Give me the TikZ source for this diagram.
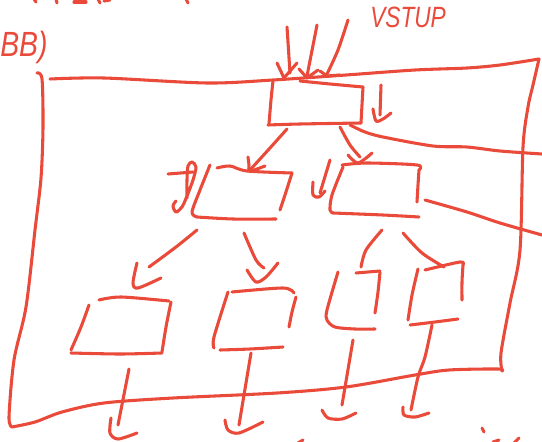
\documentclass[tikz,border=0pt]{standalone}
\usepackage{fontspec}
\setmainfont{Liberation Sans}
\definecolor{pen}{RGB}{233,74,58}

\begin{document}
\begin{tikzpicture}[x=0.75pt,y=0.75pt,yscale=-1,xscale=1,
  ink/.style={draw=pen, line width=2.3pt, line cap=round, line join=round},
  hand/.style={text=pen, inner sep=0pt, font=\itshape}]
\useasboundingbox (0,0) rectangle (542,442);

%Free Drawing: frame
\draw  [ink] plot [smooth] coordinates {(50,79) (104,78) (207,83) (273,80) (346,75) (415,70) (467,68) (500,65) (539,59)} ;
\draw  [ink] plot [smooth] coordinates {(539,59) (533,85) (528,107) (523,147) (520,250) (510,303) (501,353) (502,371)} ;
\draw  [ink] plot [smooth] coordinates {(502,371) (498,369) (449,370) (415,375) (346,387) (277,393) (173,398) (104,403) (62,412) (35,422) (12,427)} ;
\draw  [ink] plot [smooth] coordinates {(12,427) (9,417) (14,360) (26,307) (35,230) (41,178) (43,127) (42,79) (37,73)} ;

%Free Drawing: input box
\draw  [ink] plot [smooth] coordinates {(273,81) (271,100) (269,124)} ;
\draw  [ink] plot [smooth] coordinates {(268,125) (300,124) (361,123)} ;
\draw  [ink] plot [smooth] coordinates {(300,81) (330,84) (363,87)} ;
\draw  [ink] plot [smooth] coordinates {(363,87) (362,105) (361,123)} ;

%Free Drawing: input arrows
\draw  [ink] (287,27) -- (290,73) ;
\draw  [ink] (277,63) -- (284,78) -- (297,63) ;
\draw  [ink] (317,25) -- (307,76) ;
\draw  [ink] (299,69) -- (307,78) -- (318,70) ;
\draw  [ink] plot [smooth] coordinates {(348,20) (338,50) (327,74)} ;
\draw  [ink] (320,71) -- (327,76) -- (340,75) ;

%Free Drawing: side outputs
\draw  [ink] plot [smooth] coordinates {(350,125) (365,132) (383,137) (433,146) (467,147) (500,151) (542,154)} ;
\draw  [ink] (381,85) -- (380,115) ;
\draw  [ink] plot [smooth] coordinates {(373,109) (376,121) (383,119) (391,113)} ;
\draw  [ink] plot [smooth] coordinates {(425,200) (467,212) (500,223) (542,235)} ;

%Free Drawing: left box
\draw  [ink] plot [smooth] coordinates {(287,129) (270,148) (250,170)} ;
\draw  [ink] plot [smooth] coordinates {(248,157) (249,165) (250,171) (265,166)} ;
\draw  [ink] plot [smooth] coordinates {(217,168) (230,166) (247,171) (292,173)} ;
\draw  [ink] plot [smooth] coordinates {(292,173) (285,195) (280,210)} ;
\draw  [ink] plot [smooth] coordinates {(210,165) (200,190) (192,212) (197,217)} ;
\draw  [ink] plot [smooth] coordinates {(197,217) (233,219) (276,219)} ;
\draw  [ink] (168,174) -- (193,172) ;
\draw  [ink] plot [smooth] coordinates {(187,198) (187,180) (188,166) (192,162) (196,167) (193,180) (187,196) (182,207) (176,212) (173,206) (176,201)} ;

%Free Drawing: right box
\draw  [ink] plot [smooth] coordinates {(340,127) (350,145) (360,157)} ;
\draw  [ink] plot [smooth] coordinates {(348,155) (358,163) (372,153)} ;
\draw  [ink] (330,160) -- (320,193) ;
\draw  [ink] plot [smooth] coordinates {(313,182) (313,195) (319,197) (325,191)} ;
\draw  [ink] plot [smooth] coordinates {(342,165) (367,163) (417,165) (419,170)} ;
\draw  [ink] plot [smooth] coordinates {(419,170) (418,185) (417,202)} ;
\draw  [ink] plot [smooth] coordinates {(343,167) (332,195) (330,210) (333,213)} ;
\draw  [ink] plot [smooth] coordinates {(333,213) (383,215) (419,217)} ;

%Free Drawing: box A
\draw  [ink] plot [smooth] coordinates {(197,230) (176,247) (149,267)} ;
\draw  [ink] plot [smooth] coordinates {(137,263) (133,283) (138,288) (161,278)} ;
\draw  [ink] plot [smooth] coordinates {(99,300) (121,297) (169,301)} ;
\draw  [ink] plot [smooth] coordinates {(171,302) (166,327) (162,352)} ;
\draw  [ink] plot [smooth] coordinates {(89,305) (81,327) (71,350)} ;
\draw  [ink] plot [smooth] coordinates {(71,353) (120,354) (162,353)} ;
\draw  [ink] (129,369) -- (118,425) ;
\draw  [ink] plot [smooth] coordinates {(111,418) (110,433) (118,439) (137,433)} ;

%Free Drawing: box B
\draw  [ink] plot [smooth] coordinates {(244,233) (256,260) (264,268)} ;
\draw  [ink] plot [smooth] coordinates {(247,270) (256,282) (266,277) (278,263)} ;
\draw  [ink] plot [smooth] coordinates {(232,292) (283,288) (294,293)} ;
\draw  [ink] plot [smooth] coordinates {(296,297) (292,312) (289,327)} ;
\draw  [ink] plot [smooth] coordinates {(228,292) (214,337) (214,348)} ;
\draw  [ink] plot [smooth] coordinates {(220,350) (250,349) (283,347)} ;
\draw  [ink] (251,353) -- (239,425) ;
\draw  [ink] plot [smooth] coordinates {(225,420) (228,430) (239,433) (263,422)} ;

%Free Drawing: box C
\draw  [ink] plot [smooth] coordinates {(382,230) (366,250) (361,267)} ;
\draw  [ink] (356,273) -- (380,271) ;
\draw  [ink] plot [smooth] coordinates {(380,272) (378,292) (375,313)} ;
\draw  [ink] plot [smooth] coordinates {(338,272) (327,310) (327,320) (335,327) (355,329) (375,329)} ;
\draw  [ink] (353,340) -- (342,405) ;
\draw  [ink] plot [smooth] coordinates {(322,410) (328,418) (342,419) (356,413)} ;

%Free Drawing: box D
\draw  [ink] plot [smooth] coordinates {(403,233) (422,253) (444,267)} ;
\draw  [ink] plot [smooth] coordinates {(425,270) (460,262) (463,265)} ;
\draw  [ink] plot [smooth] coordinates {(463,265) (462,282) (462,300)} ;
\draw  [ink] plot [smooth] coordinates {(418,269) (412,295) (408,320)} ;
\draw  [ink] plot [smooth] coordinates {(410,325) (435,322) (458,319)} ;
\draw  [ink] plot [smooth] coordinates {(432,325) (425,357) (418,377) (411,410)} ;
\draw  [ink] plot [smooth] coordinates {(403,407) (404,415) (415,417) (429,413)} ;

%Free Drawing: strokes running off the edges
\draw  [ink] (34,-1) -- (36,2) ;
\draw  [ink] (56,-1) -- (57,3) ;
\draw  [ink] (74,2) -- (86,2) ;
\draw  [ink] (98,-1) -- (100,3) ;
\draw  [ink] (104,1) -- (110,0) ;
\draw  [ink] (186,-1) -- (188,3) ;
\draw  [ink] (298,443) -- (303,440) ;
\draw  [ink] (482,428) -- (484,432) ;
\draw  [ink] (493,442) -- (499,440) ;
\draw  [ink] (514,443) -- (519,438) ;

% Text Node
\draw (0,57) node (bb) [hand, anchor=base west] {\fontsize{25}{25}\selectfont\scalebox{0.85}[1.05]{BB)}} ;
% Text Node
\draw (370,28) node (vstup) [hand, anchor=base west] {\fontsize{20}{20}\selectfont\scalebox{0.85}[1.1]{VSTUP}} ;

\end{tikzpicture}
\end{document}
